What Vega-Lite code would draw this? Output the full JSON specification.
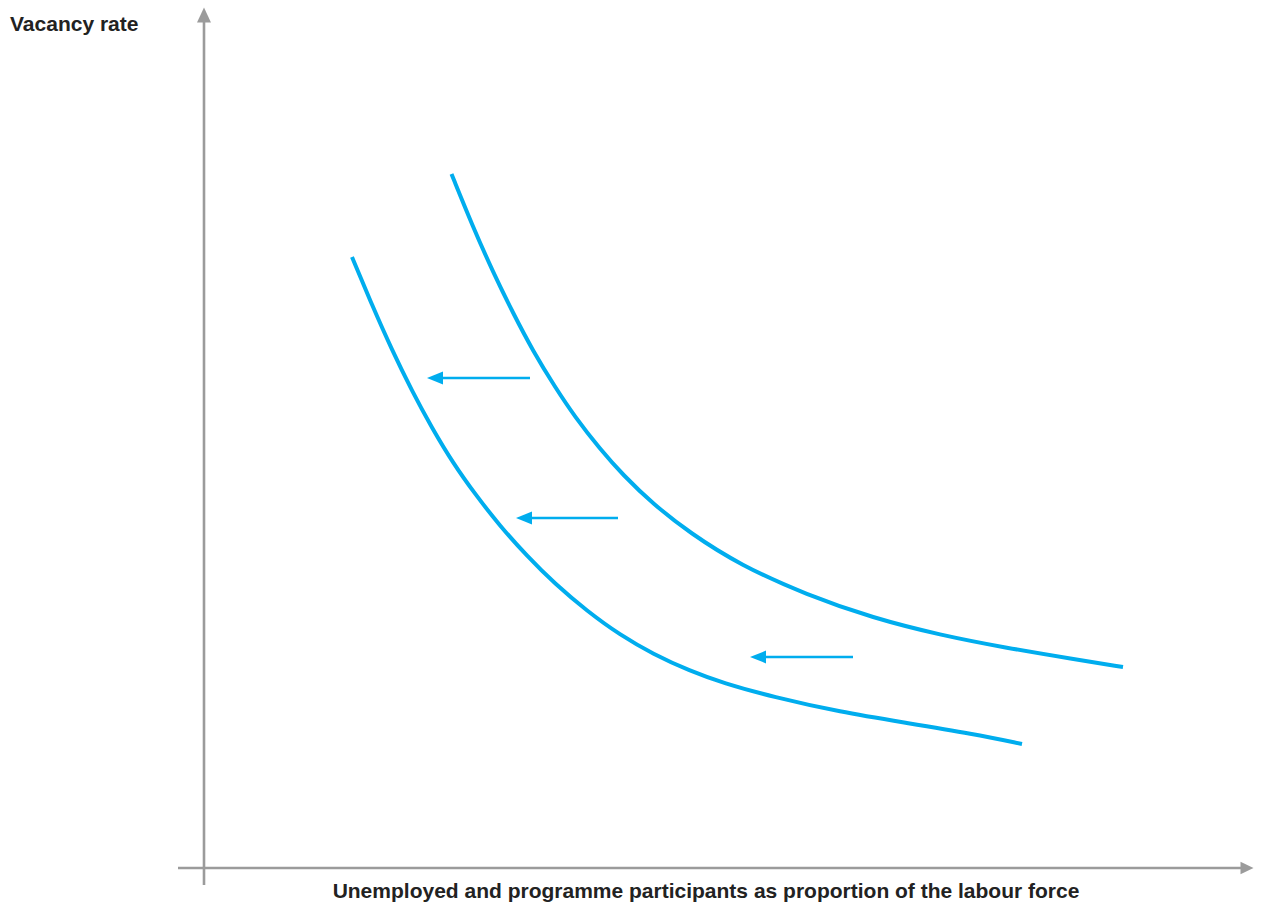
{
  "$schema": "https://vega.github.io/schema/vega-lite/v6.json",
  "width": 1263,
  "height": 905,
  "autosize": {"type": "fit", "contains": "padding"},
  "padding": 0,
  "background": "white",
  "config": {"view": {"stroke": null}},
  "datasets": {
    "axes": [
      {"part": "y-axis", "x": 0, "y": -1.7, "x2": 0, "y2": 84.6},
      {"part": "x-axis", "x": -2.6, "y": 0, "x2": 104.0, "y2": 0}
    ],
    "axisHeadsUp": [{"x": 0, "y": 85.3}],
    "axisHeadsRight": [{"x": 104.3, "y": 0}],
    "curves": [
      {"curve": "before", "x": 24.75, "y": 69.4},
      {"curve": "before", "x": 26.9, "y": 64.1},
      {"curve": "before", "x": 28.9, "y": 59.6},
      {"curve": "before", "x": 30.9, "y": 55.5},
      {"curve": "before", "x": 32.9, "y": 51.7},
      {"curve": "before", "x": 35.1, "y": 48.1},
      {"curve": "before", "x": 37.1, "y": 45.1},
      {"curve": "before", "x": 39.6, "y": 41.9},
      {"curve": "before", "x": 41.9, "y": 39.3},
      {"curve": "before", "x": 44.9, "y": 36.4},
      {"curve": "before", "x": 48.6, "y": 33.5},
      {"curve": "before", "x": 53.6, "y": 30.3},
      {"curve": "before", "x": 60.3, "y": 27.3},
      {"curve": "before", "x": 66.9, "y": 25.0},
      {"curve": "before", "x": 73.6, "y": 23.3},
      {"curve": "before", "x": 80.3, "y": 22.0},
      {"curve": "before", "x": 86.9, "y": 20.9},
      {"curve": "before", "x": 91.9, "y": 20.1},
      {"curve": "after", "x": 14.8, "y": 61.1},
      {"curve": "after", "x": 16.8, "y": 56.3},
      {"curve": "after", "x": 18.8, "y": 51.8},
      {"curve": "after", "x": 20.8, "y": 47.7},
      {"curve": "after", "x": 22.8, "y": 44.0},
      {"curve": "after", "x": 24.9, "y": 40.5},
      {"curve": "after", "x": 27.1, "y": 37.4},
      {"curve": "after", "x": 29.6, "y": 34.2},
      {"curve": "after", "x": 32.3, "y": 31.2},
      {"curve": "after", "x": 35.1, "y": 28.4},
      {"curve": "after", "x": 38.3, "y": 25.7},
      {"curve": "after", "x": 41.6, "y": 23.3},
      {"curve": "after", "x": 44.9, "y": 21.4},
      {"curve": "after", "x": 48.6, "y": 19.7},
      {"curve": "after", "x": 51.9, "y": 18.5},
      {"curve": "after", "x": 56.9, "y": 17.1},
      {"curve": "after", "x": 63.6, "y": 15.6},
      {"curve": "after", "x": 70.3, "y": 14.5},
      {"curve": "after", "x": 76.9, "y": 13.4},
      {"curve": "after", "x": 81.8, "y": 12.4}
    ],
    "arrows": [
      {"arrow": 1, "x": 32.6, "x2": 23.6, "y": 49.0, "y2": 49.0},
      {"arrow": 2, "x": 41.4, "x2": 32.5, "y": 35.0, "y2": 35.0},
      {"arrow": 3, "x": 64.9, "x2": 56.0, "y": 21.1, "y2": 21.1}
    ],
    "arrowHeads": [
      {"arrow": 1, "x": 23.1, "y": 49.0},
      {"arrow": 2, "x": 32.0, "y": 35.0},
      {"arrow": 3, "x": 55.4, "y": 21.1}
    ],
    "yLabel": [{"label": "Vacancy rate", "x": -19.4, "y": 83.7}],
    "xLabel": [{"label": "Unemployed and programme participants as proportion of the labour force", "x": 50.2, "y": -3.0}]
  },
  "encoding": {
    "x": {"field": "x", "type": "quantitative", "scale": {"domain": [-20.4, 105.9], "nice": false, "zero": false}, "axis": null},
    "y": {"field": "y", "type": "quantitative", "scale": {"domain": [-3.7, 86.8], "nice": false, "zero": false}, "axis": null}
  },
  "layer": [
    {
      "data": {"name": "axes"},
      "mark": {"type": "rule", "color": "#9b9b9b", "strokeWidth": 2.6},
      "encoding": {"x2": {"field": "x2"}, "y2": {"field": "y2"}}
    },
    {
      "data": {"name": "axisHeadsUp"},
      "mark": {"type": "point", "shape": "M0,-1L0.93,1L-0.93,1Z", "size": 225, "filled": true, "color": "#9b9b9b", "opacity": 1},
      "encoding": {}
    },
    {
      "data": {"name": "axisHeadsRight"},
      "mark": {"type": "point", "shape": "M1,0L-1,-0.95L-1,0.95Z", "size": 169, "filled": true, "color": "#9b9b9b", "opacity": 1},
      "encoding": {}
    },
    {
      "data": {"name": "curves"},
      "mark": {"type": "line", "color": "#00adee", "strokeWidth": 4, "interpolate": "basis", "strokeCap": "butt"},
      "encoding": {"detail": {"field": "curve"}, "order": {"field": "x", "type": "quantitative"}}
    },
    {
      "data": {"name": "arrows"},
      "mark": {"type": "rule", "color": "#00adee", "strokeWidth": 2.6},
      "encoding": {"x2": {"field": "x2"}, "y2": {"field": "y2"}}
    },
    {
      "data": {"name": "arrowHeads"},
      "mark": {"type": "point", "shape": "M-1,0L1,-0.8L1,0.8Z", "size": 256, "filled": true, "color": "#00adee", "opacity": 1},
      "encoding": {}
    },
    {
      "data": {"name": "yLabel"},
      "mark": {"type": "text", "font": "Liberation Sans", "fontWeight": "bold", "fontSize": 21, "color": "#222222", "baseline": "alphabetic", "align": "left"},
      "encoding": {"text": {"field": "label"}}
    },
    {
      "data": {"name": "xLabel"},
      "mark": {"type": "text", "font": "Liberation Sans", "fontWeight": "bold", "fontSize": 21, "color": "#222222", "baseline": "alphabetic", "align": "center"},
      "encoding": {"text": {"field": "label"}}
    }
  ]
}
